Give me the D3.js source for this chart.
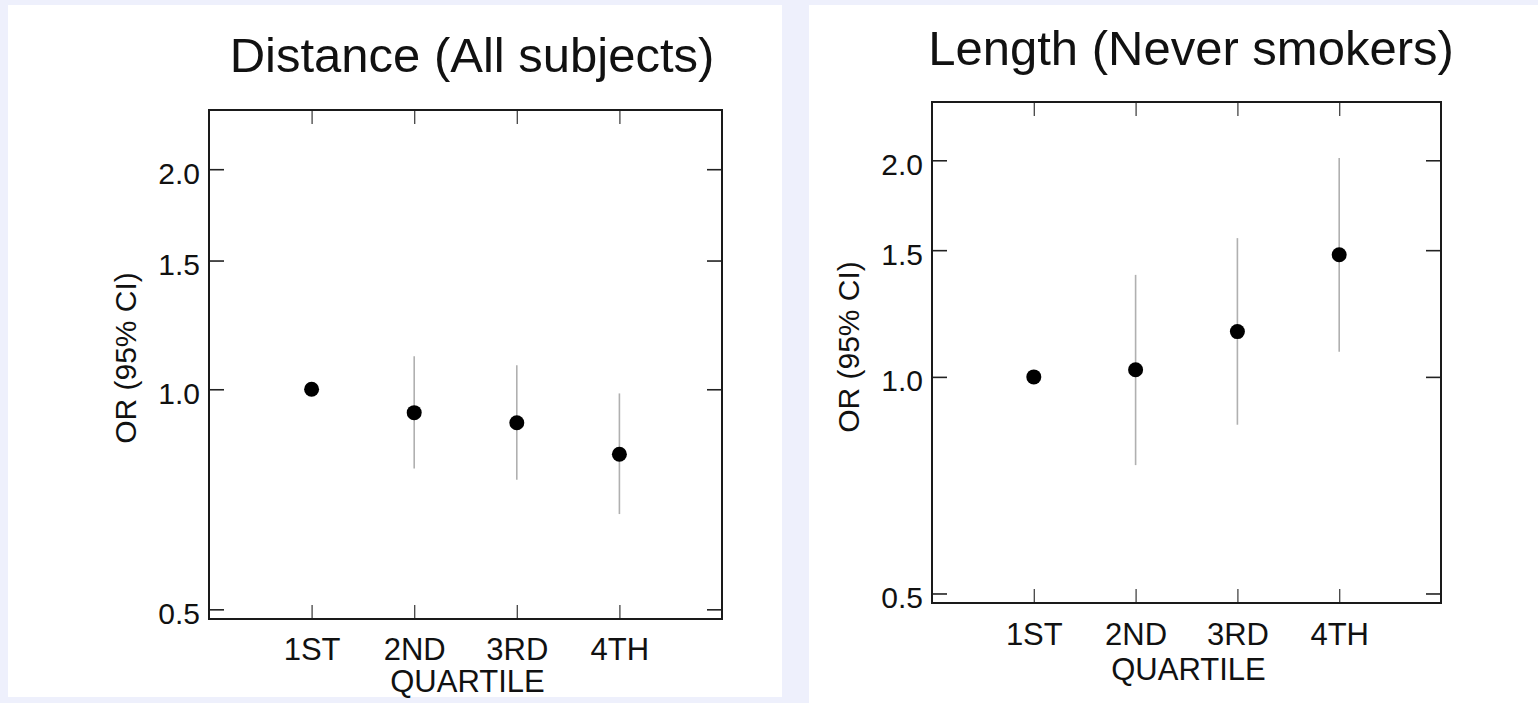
<!DOCTYPE html>
<html><head><meta charset="utf-8">
<script src="https://cdn.jsdelivr.net/npm/d3@7"></script>
<style>
html,body{margin:0;padding:0;background:#eef0fc;}
svg{display:block;}
text{font-family:"Liberation Sans",Arial,Helvetica,sans-serif;fill:#111;}
</style></head>
<body>
<svg id="chart" width="1538" height="703"></svg>
<script>
// ---- data ----
const categories = ["1ST", "2ND", "3RD", "4TH"];
const yTickValues = [0.5, 1.0, 1.5, 2.0];
const titles = ["Distance (All subjects)", "Length (Never smokers)"];
const xAxisTitle = "QUARTILE";
const yAxisTitle = "OR (95% CI)";
// Distance (All subjects)
const distanceOR    = [1.0, 0.929, 0.900, 0.815];
const distanceLower = [null, 0.779, 0.752, 0.675];
const distanceUpper = [null, 1.110, 1.079, 0.987];
// Length (Never smokers)
const lengthOR    = [1.0, 1.023, 1.156, 1.478];
const lengthLower = [null, 0.754, 0.858, 1.084];
const lengthUpper = [null, 1.386, 1.559, 2.014];
const yDomain = [0.485, 2.41];

const svg = d3.select("#chart");

const panels = [
  {bg:{x:8,y:5,w:774,h:692}, frame:{l:209,t:110,r:722,b:619}, title:titles[0], titleX:472, titleY:72,
   tickBase:41, qBase:73, ylabX:136, ylabY:358,
   or:distanceOR, lo:distanceLower, hi:distanceUpper},
  {bg:{x:809,y:5,w:729,h:698}, frame:{l:932,t:102,r:1441,b:603}, title:titles[1], titleX:1191, titleY:65,
   tickBase:42, qBase:77, ylabX:859, ylabY:347,
   or:lengthOR, lo:lengthLower, hi:lengthUpper}
];

panels.forEach(p => {
  svg.append("rect").attr("x",p.bg.x).attr("y",p.bg.y).attr("width",p.bg.w).attr("height",p.bg.h).attr("fill","#fff");
  const f = p.frame;
  const x = d3.scaleLinear().domain([0, categories.length + 1]).range([f.l, f.r]);
  const y = d3.scaleLog().domain(yDomain).range([f.b, f.t]);
  const g = svg.append("g");

  // title
  g.append("text").attr("x",p.titleX).attr("y",p.titleY).attr("text-anchor","middle")
    .style("font-size","49px").text(p.title);

  // axes
  const styleAxis = sel => {
    sel.select(".domain").remove();
    sel.selectAll(".tick line").attr("stroke","#222").attr("stroke-width",1.6);
  };
  const left = g.append("g").attr("transform",`translate(${f.l},0)`)
    .call(d3.axisLeft(y).tickValues(yTickValues).tickFormat(d3.format(".1f")).tickSize(-15).tickPadding(9));
  styleAxis(left);
  left.selectAll(".tick text").attr("dy","14px").style("font-size","30px").attr("fill","#111");

  const right = g.append("g").attr("transform",`translate(${f.r},0)`)
    .call(d3.axisRight(y).tickValues(yTickValues).tickFormat("").tickSize(-15));
  styleAxis(right);

  const idx = categories.map((c,i)=>i+1);
  const top = g.append("g").attr("transform",`translate(0,${f.t})`)
    .call(d3.axisTop(x).tickValues(idx).tickFormat("").tickSize(-14));
  styleAxis(top);
  top.selectAll(".tick line").attr("stroke","#444").attr("stroke-width",1.3);

  const bottom = g.append("g").attr("transform",`translate(0,${f.b})`)
    .call(d3.axisBottom(x).tickValues(idx).tickFormat(d=>categories[d-1]).tickSize(-14));
  styleAxis(bottom);
  bottom.selectAll(".tick line").attr("stroke","#444").attr("stroke-width",1.3);
  bottom.selectAll(".tick text").attr("y",p.tickBase).attr("dy",0).style("font-size","31px").attr("fill","#111");

  // frame
  g.append("rect").attr("x",f.l).attr("y",f.t).attr("width",f.r-f.l).attr("height",f.b-f.t)
    .attr("fill","none").attr("stroke","#1a1a1a").attr("stroke-width",2);

  // axis titles
  g.append("text").attr("x",(f.l+f.r)/2 + 2).attr("y",f.b + p.qBase).attr("text-anchor","middle")
    .style("font-size","31px").text(xAxisTitle);
  g.append("text").attr("transform",`translate(${p.ylabX},${p.ylabY}) rotate(-90)`).attr("text-anchor","middle")
    .style("font-size","30px").text(yAxisTitle);

  // CI lines
  const rows = categories.map((c,i)=>({i:i+1, or:p.or[i], lo:p.lo[i], hi:p.hi[i]}));
  g.selectAll("line.ci").data(rows.filter(d=>d.lo!=null)).join("line").attr("class","ci")
    .attr("x1",d=>x(d.i)).attr("x2",d=>x(d.i)).attr("y1",d=>y(d.lo)).attr("y2",d=>y(d.hi))
    .attr("stroke","#b0b0b0").attr("stroke-width",1.6);
  g.selectAll("circle.pt").data(rows).join("circle").attr("class","pt")
    .attr("cx",d=>x(d.i)).attr("cy",d=>y(d.or)).attr("r",7.5).attr("fill","#000");
});
</script>
</body></html>
